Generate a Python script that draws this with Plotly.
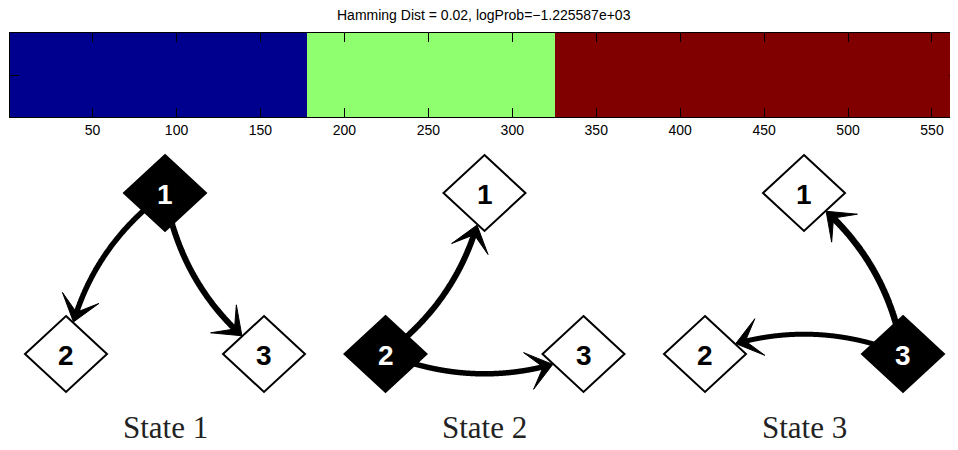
import numpy as np
import plotly.graph_objects as go

# decoded state sequence, stored as runs
state_ids = [1, 2, 3]
run_lengths = [177, 148, 240]
state_colors = ["#00008F", "#8FFF70", "#800000"]
x_ticks = [50, 100, 150, 200, 250, 300, 350, 400, 450, 500, 550]
hamming_dist = 0.02
log_prob = -1225.587

# transitions drawn in each panel
edge_src = [1, 1, 2, 2, 3, 3]
edge_dst = [2, 3, 1, 3, 1, 2]
edge_width = [5.5, 6, 6, 5.5, 6.5, 5]
panel_labels = ["State 1", "State 2", "State 3"]

OFF = 8  # page body margin shifts the figure by this much
W, H = 958 - OFF, 450 - OFF

# diagram geometry in screen pixels
PANEL_X0, PANEL_DX = 165, 319.5
NODE_POS = {1: (0, 193), 2: (-99, 354), 3: (99, 354)}
HW, HH = 41, 38
BEND = 0.2
HEAD_L, HEAD_W = 25, 19

z = np.repeat(state_ids, run_lengths)[None, :]
n = z.shape[1]

fig = go.Figure()
fig.add_trace(go.Heatmap(
    z=z, x=np.arange(1, n + 1), y=[1],
    zmin=1, zmax=3,
    colorscale=[[0, state_colors[0]], [0.5, state_colors[1]], [1, state_colors[2]]],
    showscale=False, hoverinfo="skip",
))


def node_xy(panel, node):
    dx, y = NODE_POS[node]
    return np.array([PANEL_X0 + PANEL_DX * panel + dx, y], dtype=float)


def path_of(pts, close=False):
    s = "M " + " L ".join(f"{x:.2f},{y:.2f}" for x, y in pts)
    return s + (" Z" if close else "")


shapes = []
annotations = []
t = np.linspace(0, 1, 600)[:, None]

# arrows first, nodes drawn over them
for src, dst, w in zip(edge_src, edge_dst, edge_width):
    panel = src - 1
    a, b = node_xy(panel, src), node_xy(panel, dst)
    d = b - a
    perp = np.array([-d[1], d[0]])
    c = (a + b) / 2 + BEND * perp
    pts = (1 - t) ** 2 * a + 2 * (1 - t) * t * c + t ** 2 * b
    inside = np.abs(pts[:, 0] - b[0]) / HW + np.abs(pts[:, 1] - b[1]) / HH <= 1.03
    i_tip = int(np.argmax(inside))
    tip = pts[i_tip]
    tan = tip - pts[i_tip - 4]
    tan /= np.linalg.norm(tan)
    u = -tan
    nrm = np.array([-tan[1], tan[0]])
    dist = np.linalg.norm(pts[:i_tip] - tip, axis=1)
    line_pts = pts[:i_tip][dist > HEAD_L * 0.4]
    shapes.append(dict(type="path", xref="x2", yref="y2", path=path_of(line_pts),
                       line=dict(color="black", width=w)))
    head = [tip, tip + HEAD_L * u + HEAD_W * nrm, tip + 0.4 * HEAD_L * u,
            tip + HEAD_L * u - HEAD_W * nrm]
    shapes.append(dict(type="path", xref="x2", yref="y2", path=path_of(head, True),
                       fillcolor="black", line=dict(color="black", width=1)))

for panel, label in enumerate(panel_labels):
    active = panel + 1
    for node in (1, 2, 3):
        cx, cy = node_xy(panel, node)
        diamond = [(cx, cy - HH), (cx + HW, cy), (cx, cy + HH), (cx - HW, cy)]
        shapes.append(dict(type="path", xref="x2", yref="y2", path=path_of(diamond, True),
                           fillcolor="black" if node == active else "white",
                           line=dict(color="black", width=2)))
        annotations.append(dict(x=cx, y=cy + 1, xref="x2", yref="y2", text=f"<b>{node}</b>",
                                showarrow=False,
                                font=dict(family="Liberation Sans, Arial", size=28,
                                          color="white" if node == active else "black")))
    annotations.append(dict(x=PANEL_X0 + PANEL_DX * panel, y=427, xref="x2", yref="y2",
                            text=label, showarrow=False,
                            font=dict(family="Liberation Serif, serif", size=31, color="#222")))

title = f"Hamming Dist = {hamming_dist:.2f}, logProb={log_prob:e}".replace("=-", "=\u2212")
annotations.append(dict(x=(484 - OFF) / W, y=1 - (15 - OFF) / H, xref="paper", yref="paper",
                        text=title, showarrow=False, xanchor="center", yanchor="middle",
                        font=dict(family="Liberation Sans, Arial", size=14, color="black")))

fig.update_layout(
    width=W, height=H,
    margin=dict(l=0, r=0, t=0, b=0),
    paper_bgcolor="white", plot_bgcolor="rgba(0,0,0,0)",
    showlegend=False,
    shapes=shapes, annotations=annotations,
    xaxis=dict(domain=[(9.5 - OFF) / W, 1], range=[0.5, n + 0.5],
               tickvals=x_ticks, ticks="inside", ticklen=9, tickcolor="black",
               showline=True, linecolor="black", linewidth=1, mirror="ticks",
               showgrid=False, zeroline=False, fixedrange=True,
               tickfont=dict(family="Liberation Sans, Arial", size=14, color="black")),
    yaxis=dict(domain=[1 - (117 - OFF) / H, 1 - (33 - OFF) / H], range=[0.5, 1.5],
               tickvals=[1], ticktext=[""], ticks="inside", ticklen=9, tickcolor="black",
               showline=True, linecolor="black", linewidth=1, mirror="ticks",
               showgrid=False, zeroline=False, fixedrange=True),
    xaxis2=dict(domain=[0, 1], range=[OFF, W + OFF], visible=False, fixedrange=True,
                anchor="y2"),
    yaxis2=dict(domain=[0, 1], range=[H + OFF, OFF], visible=False, fixedrange=True,
                anchor="x2"),
)

fig.write_html("out.html")
